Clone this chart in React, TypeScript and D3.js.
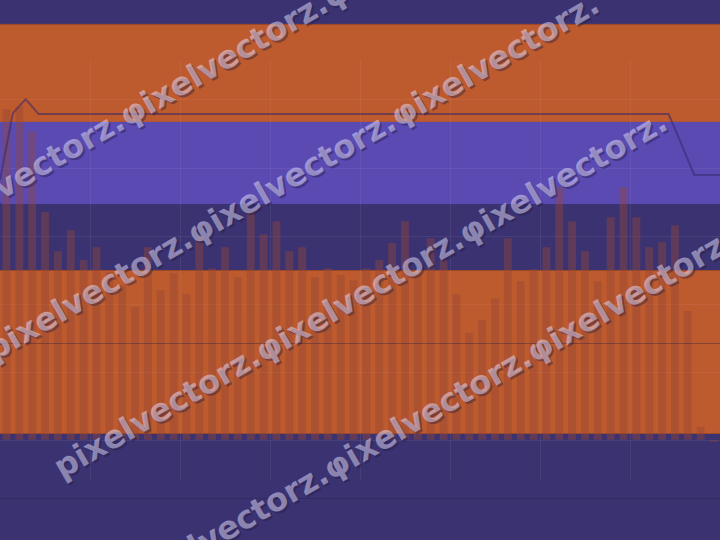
import React, { useEffect, useRef } from 'react';
import * as d3 from 'd3';

// categories (one per bar)
const days = [
  '1', '2', '3', '4', '5', '6', '7', '8', '9', '10',
  '11', '12', '13', '14', '15', '16', '17', '18', '19', '20',
  '21', '22', '23', '24', '25', '26', '27', '28', '29', '30',
  '31', '32', '33', '34', '35', '36', '37', '38', '39', '40',
  '41', '42', '43', '44', '45', '46', '47', '48', '49', '50',
  '51', '52', '53', '54', '55', '56',
];

const barValues = [
  97.1, 97.9, 90.6, 66.9, 55.4, 61.6, 52.8, 56.6, 49.3, 45.5,
  39.0, 56.6, 44.0, 49.0, 42.8, 59.8, 50.4, 56.6, 47.8, 66.9,
  60.4, 64.2, 55.4, 56.6, 47.8, 50.4, 48.5, 46.9, 50.4, 52.8,
  57.8, 64.2, 49.3, 59.2, 52.8, 42.8, 31.4, 35.2, 41.6, 59.2,
  46.6, 50.1, 56.6, 74.2, 64.2, 55.4, 46.6, 65.4, 74.2, 65.4,
  56.6, 58.1, 63.0, 37.8, 3.8, -0.6,
];

// line series, sampled on the category boundaries
const lineValues = [
  76.3, 96.0, 100.1, 95.7, 95.7, 95.7, 95.7, 95.7, 95.7, 95.7,
  95.7, 95.7, 95.7, 95.7, 95.7, 95.7, 95.7, 95.7, 95.7, 95.7,
  95.7, 95.7, 95.7, 95.7, 95.7, 95.7, 95.7, 95.7, 95.7, 95.7,
  95.7, 95.7, 95.7, 95.7, 95.7, 95.7, 95.7, 95.7, 95.7, 95.7,
  95.7, 95.7, 95.7, 95.7, 95.7, 95.7, 95.7, 95.7, 95.7, 95.7,
  95.7, 95.7, 95.7, 86.9, 77.8, 77.8, 77.8,
];

// plot bands
const bandFrom = [93.4, 69.3, 2.0];
const bandTo = [122.2, 93.4, 49.9];
const bandKind = ['orange', 'violet', 'orange'];

const refLevels = [28.4, -17.1];
const yTicks = [0, 20, 40, 60, 80, 100];
const xTicks = [1, 2, 3, 4, 5, 6, 7];

const watermarkRows = [
  'pixelvectorz.φixelvectorz.φixelvectorz.',
  'pixelvectorz.φixelvectorz.φixelvectorz.',
  'pixelvectorz.φixelvectorz.φixelvectorz.',
  'pixelvectorz.φixelvectorz.φixelvectorz.',
];

const bandColor: Record<string, string> = { orange: '#bd5a2e', violet: '#5a4ab1' };

const App: React.FC = () => {
  const svgRef = useRef<SVGSVGElement>(null);

  useEffect(() => {
    if (!svgRef.current) return;
    const width = 720;
    const height = 540;
    const svg = d3.select(svgRef.current);
    svg.selectAll('*').remove();

    const x = d3.scaleBand()
      .domain(days)
      .range([0, width])
      .paddingInner(0.39)
      .paddingOuter(0.2);

    const xl = d3.scalePoint()
      .domain(lineValues.map((_, i) => String(i)))
      .range([0, width]);

    const xg = d3.scaleLinear().domain([0, 8]).range([0, width]);
    const y = d3.scaleLinear().domain([-11.8, 111.6]).range([480, 60]);

    // background
    svg.append('rect')
      .attr('width', width)
      .attr('height', height)
      .attr('fill', '#3b3371');

    // bands
    bandFrom.forEach((from, i) => {
      const kind = bandKind[i];
      svg.append('rect')
        .attr('x', 0)
        .attr('y', y(bandTo[i]))
        .attr('width', width)
        .attr('height', y(from) - y(bandTo[i]))
        .attr('fill', bandColor[kind]);
      if (kind === 'orange') {
        [from, bandTo[i]].forEach(v => {
          svg.append('line')
            .attr('x1', 0).attr('x2', width)
            .attr('y1', Math.round(y(v)) + 0.5).attr('y2', Math.round(y(v)) + 0.5)
            .attr('stroke', '#9c482b')
            .attr('stroke-width', 1);
        });
      }
    });

    // grid
    const grid = svg.append('g').attr('stroke', '#ffffff').attr('stroke-opacity', 0.06);
    yTicks.forEach(t => {
      grid.append('line')
        .attr('x1', 0).attr('x2', width)
        .attr('y1', Math.round(y(t)) + 0.5).attr('y2', Math.round(y(t)) + 0.5);
    });
    xTicks.forEach(t => {
      grid.append('line')
        .attr('x1', xg(t) + 0.5).attr('x2', xg(t) + 0.5)
        .attr('y1', y(111.6)).attr('y2', y(-11.8));
    });

    // bars
    const bars = svg.append('g');
    barValues.forEach((v, i) => {
      bars.append('rect')
        .attr('x', x(days[i])!)
        .attr('y', y(Math.max(0, v)))
        .attr('width', x.bandwidth())
        .attr('height', Math.abs(y(v) - y(0)))
        .attr('fill', '#964637')
        .attr('fill-opacity', 0.4);
    });

    // reference lines
    refLevels.forEach(v => {
      svg.append('line')
        .attr('x1', 0).attr('x2', width)
        .attr('y1', Math.round(y(v)) + 0.5).attr('y2', Math.round(y(v)) + 0.5)
        .attr('stroke', '#231a45')
        .attr('stroke-opacity', 0.35);
    });

    // line series
    const line = d3.line<number>()
      .x((_, i) => xl(String(i))!)
      .y(d => y(d));
    svg.append('path')
      .datum(lineValues)
      .attr('d', line)
      .attr('fill', 'none')
      .attr('stroke', '#35286a')
      .attr('stroke-opacity', 0.55)
      .attr('stroke-width', 2);

    // watermark
    const drawMark = (transform: string, fill: string, opacity: number) => {
      const g = svg.append('g').attr('transform', transform);
      watermarkRows.forEach((txt, i) => {
        g.append('text')
          .attr('x', -186)
          .attr('y', 174 + i * 136)
          .attr('font-family', 'DejaVu Sans')
          .attr('font-weight', 'bold')
          .attr('font-size', 32)
          .attr('fill', fill)
          .attr('fill-opacity', opacity)
          .text(txt);
      });
    };
    drawMark('translate(2,2) rotate(-30)', '#1e1640', 0.4);
    drawMark('rotate(-30)', '#e6e0ff', 0.5);
  }, []);

  return (
    <svg
      ref={svgRef}
      width={720}
      height={540}
      style={{ position: 'fixed', left: 0, top: 0, display: 'block' }}
    />
  );
};

export default App;
